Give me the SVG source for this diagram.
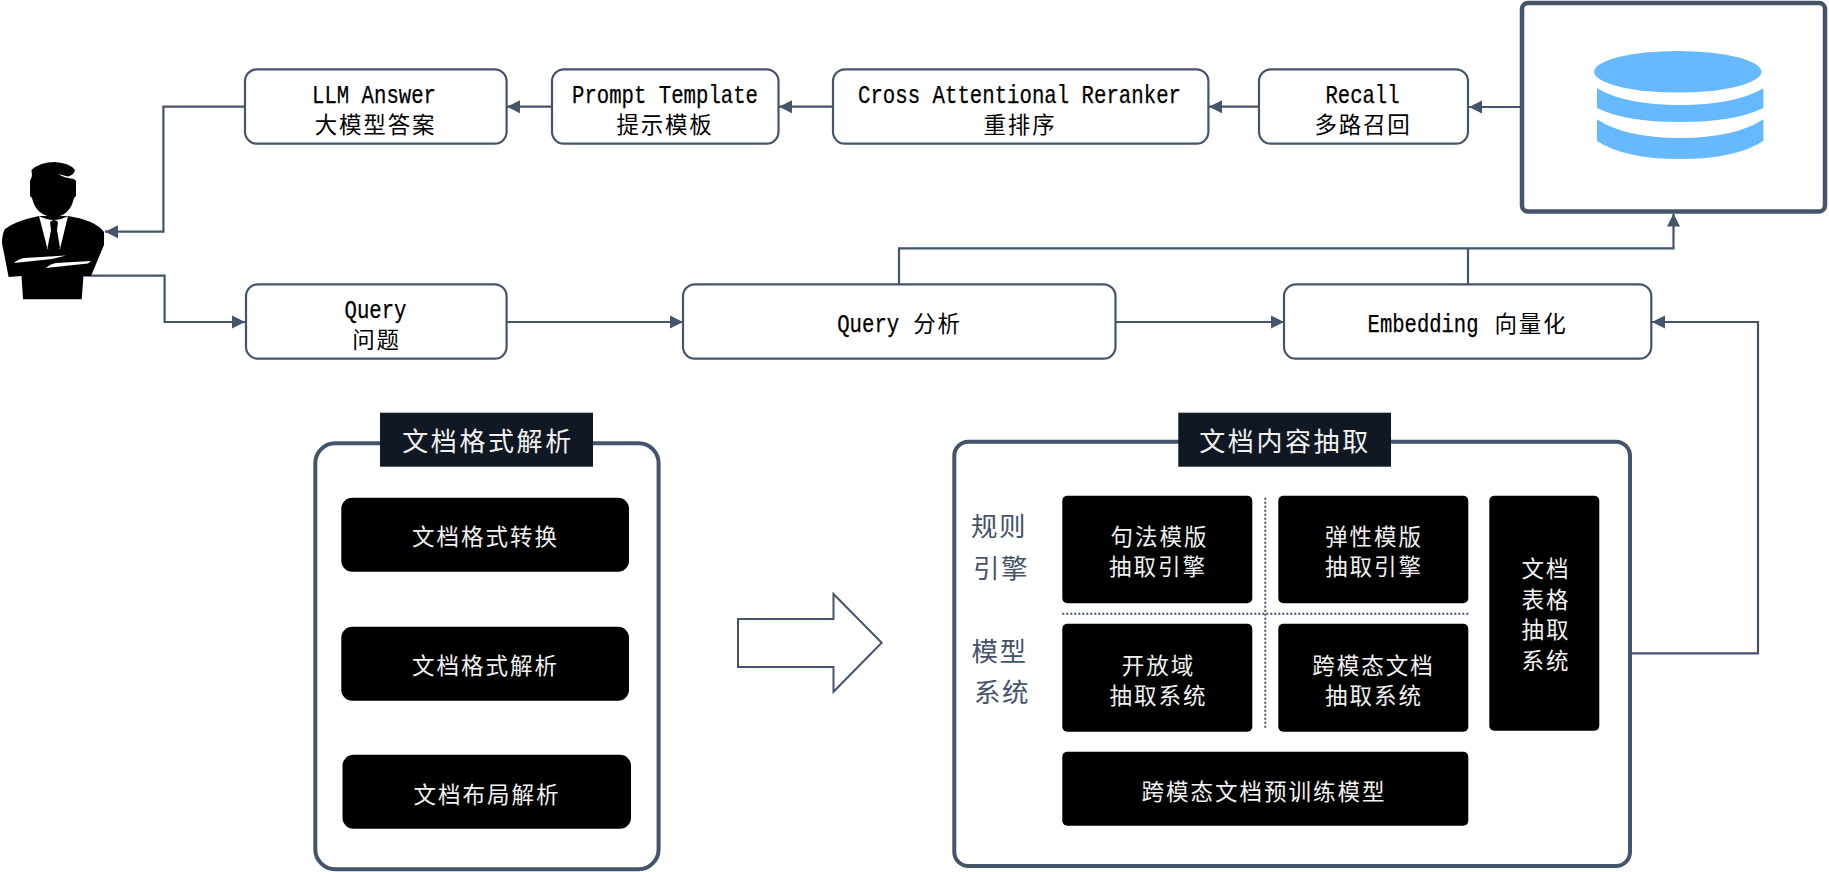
<svg xmlns="http://www.w3.org/2000/svg" width="1829" height="872" viewBox="0 0 1829 872">
<style>
text{text-anchor:middle}
.la{font-family:"Liberation Mono","Noto Sans CJK SC",monospace;font-size:25px;fill:#000;stroke:#000;stroke-width:.25}
.cn{font-family:"Noto Sans CJK SC",sans-serif;font-size:22.5px;letter-spacing:1.8px;fill:#000;stroke:none}
.wh{font-family:"Noto Sans CJK SC",sans-serif;font-size:22.5px;letter-spacing:2px;fill:#f2f2f2}
.ti{font-family:"Noto Sans CJK SC",sans-serif;font-size:26px;letter-spacing:2.6px;fill:#f2f2f2}
.sd{font-family:"Noto Sans CJK SC",sans-serif;font-size:26.5px;letter-spacing:1.5px;fill:#44546a}
.nb{fill:#fff;stroke:#44546a;stroke-width:2.2}
.fr{fill:#fff;stroke:#44546a;stroke-width:4}
.bk{fill:#000}
.hd{fill:#101824}
.cv{fill:none;stroke:#44546a;stroke-width:2.2}
.dt{fill:none;stroke:#44546a;stroke-width:2;stroke-dasharray:2 2}
.db{fill:#66b8ff}
</style>
<defs>
<marker id="ah" markerUnits="userSpaceOnUse" markerWidth="14" markerHeight="15" refX="13" refY="7" orient="auto"><path d="M0,0.5 L13,7 L0,13.5 Z" fill="#44546a"/></marker>
</defs>
<g id="connectors">
<path class="cv" d="M245,106.7 H163.4 V231.7 H105" marker-end="url(#ah)"/>
<path class="cv" d="M84,275.7 H164.6 V322 H245" marker-end="url(#ah)"/>
<path class="cv" d="M552,106.7 H507" marker-end="url(#ah)"/>
<path class="cv" d="M833,106.7 H779" marker-end="url(#ah)"/>
<path class="cv" d="M1259,106.7 H1209" marker-end="url(#ah)"/>
<path class="cv" d="M1522,107 H1469" marker-end="url(#ah)"/>
<path class="cv" d="M507,322 H683" marker-end="url(#ah)"/>
<path class="cv" d="M1115.5,322 H1284" marker-end="url(#ah)"/>
<path class="cv" d="M899,284.3 V248.3 H1673.5 V213.5" marker-end="url(#ah)"/>
<path class="cv" d="M1468,284.3 V248.3"/>
<path class="cv" d="M1630,653.3 H1758 V322 H1652" marker-end="url(#ah)"/>
</g>
<g id="person">
<path class="bk" d="M31.5,170 Q40,162 55,162 Q70,163 75,170 Q74,175 68,176.5 L58,174 Q64,178 74,179 L76,181 L76,196 L74,198 Q70,216 54,217 Q36,216 32,198 L30,196 L30,181 L32,176 Z"/>
<path class="bk" d="M39,216 Q15,221 5,229 Q2,234 2,243 L8.6,277 L21.5,276 L23,299.3 L81.7,299.3 L83.5,276 L91,276 L104,245 L104,232 Q95,220 68,216 Z"/>
<path fill="#fff" d="M39,216 L47.5,249 L60,249 L68,216 Q54,224 39,216 Z"/>
<path class="bk" d="M50,222 Q54,218 58,222 L57,230 L60,248 L54,254 L47.5,248 L51,230 Z"/>
<path fill="#fff" d="M14,263 Q18,259 24,258 L66,255.5 L52,259 Z"/>
<path fill="#fff" d="M46,268 Q50,264 56,263 L91,261 L88,263.5 Z"/>
</g>
<g id="llm"><rect class="nb" x="245" y="69.3" width="261.6" height="74.4" rx="12"/>
<text class="la" x="374" y="102.5" textLength="124" lengthAdjust="spacingAndGlyphs">LLM Answer</text><text class="cn" x="375.5" y="132.5">大模型答案</text></g>
<g id="prompt"><rect class="nb" x="552" y="69.3" width="226.5" height="74.4" rx="12"/>
<text class="la" x="665" y="102.5" textLength="186" lengthAdjust="spacingAndGlyphs">Prompt Template</text><text class="cn" x="665" y="132.5">提示模板</text></g>
<g id="reranker"><rect class="nb" x="833" y="69.3" width="375.4" height="74.4" rx="12"/>
<text class="la" x="1019.5" y="102.5" textLength="323" lengthAdjust="spacingAndGlyphs">Cross Attentional Reranker</text><text class="cn" x="1020" y="132.5">重排序</text></g>
<g id="recall"><rect class="nb" x="1259" y="69.3" width="209" height="74.4" rx="12"/>
<text class="la" x="1362.5" y="102.5" textLength="74" lengthAdjust="spacingAndGlyphs">Recall</text><text class="cn" x="1363" y="132.5">多路召回</text></g>
<g id="database"><rect x="1522" y="3" width="303" height="208.5" rx="6" fill="#fff" stroke="#44546a" stroke-width="4.5"/>
<ellipse class="db" cx="1677.8" cy="71.7" rx="83.6" ry="20.8"/>
<path class="db" d="M1597,88.3 Q1625,105 1680,105 Q1735,105 1763.4,88.3 V108 Q1735,122 1680,122 Q1625,122 1597,108 Z"/>
<path class="db" d="M1597,119.3 Q1625,138 1680,138 Q1735,138 1763.4,119.3 V141 Q1735,159 1680,159 Q1625,159 1597,141 Z"/></g>
<g id="query"><rect class="nb" x="246" y="284.3" width="260.6" height="74.4" rx="12"/>
<text class="la" x="375.5" y="317.5" textLength="62" lengthAdjust="spacingAndGlyphs">Query</text><text class="cn" x="376.5" y="347.5">问题</text></g>
<g id="analysis"><rect class="nb" x="683" y="284.3" width="432.5" height="74.4" rx="12"/>
<text class="la" x="899.5" y="332"><tspan textLength="62" lengthAdjust="spacingAndGlyphs">Query</tspan><tspan class="cn" dx="14">分析</tspan></text></g>
<g id="embedding"><rect class="nb" x="1284" y="284.3" width="367.3" height="74.4" rx="12"/>
<text class="la" x="1467.5" y="332"><tspan textLength="111" lengthAdjust="spacingAndGlyphs">Embedding</tspan><tspan class="cn" dx="16">向量化</tspan></text></g>
<g id="format-frame"><rect class="fr" x="315.3" y="443.3" width="343.3" height="426" rx="20"/>
<rect class="hd" x="380" y="412.7" width="213" height="54"/>
<text class="ti" x="488" y="450.5">文档格式解析</text></g>
<g id="fmt-convert"><rect class="bk" x="341.3" y="497.7" width="287.7" height="74" rx="11"/><text class="wh" x="485.5" y="544.5">文档格式转换</text></g>
<g id="fmt-parse"><rect class="bk" x="341.3" y="626.7" width="287.7" height="74" rx="11"/><text class="wh" x="485.5" y="674">文档格式解析</text></g>
<g id="fmt-layout"><rect class="bk" x="342.5" y="754.7" width="288.5" height="74" rx="11"/><text class="wh" x="487" y="802.5">文档布局解析</text></g>
<g id="big-arrow"><path fill="#fff" stroke="#44546a" stroke-width="2" d="M738,619 H833.5 V594 L881.7,642.7 L833.5,691.7 V667 H738 Z"/></g>
<g id="content-frame"><rect class="fr" x="954.3" y="441.7" width="675.7" height="424.3" rx="14"/>
<rect class="hd" x="1178.3" y="412.7" width="212.7" height="54"/>
<text class="ti" x="1285" y="450.5">文档内容抽取</text></g>
<g id="side-labels"><text class="sd" x="999" y="536">规则</text><text class="sd" x="1001" y="577.5">引擎</text><text class="sd" x="999.5" y="660.5">模型</text><text class="sd" x="1002" y="701.5">系统</text></g>
<g id="dividers"><path class="dt" d="M1265.3,497.7 V729"/><path class="dt" d="M1062.3,613.7 H1468.3"/></g>
<g id="syntax"><rect class="bk" x="1062.3" y="495.7" width="190" height="107.6" rx="5"/><text class="wh" x="1159.5" y="545">句法模版</text><text class="wh" x="1158" y="575">抽取引擎</text></g>
<g id="elastic"><rect class="bk" x="1278.3" y="495.7" width="190" height="107.6" rx="5"/><text class="wh" x="1374" y="545">弹性模版</text><text class="wh" x="1374" y="575">抽取引擎</text></g>
<g id="open"><rect class="bk" x="1062.3" y="623.7" width="190" height="108" rx="5"/><text class="wh" x="1158.5" y="673.5">开放域</text><text class="wh" x="1158.5" y="703.5">抽取系统</text></g>
<g id="cross-modal"><rect class="bk" x="1278.3" y="623.7" width="190" height="108" rx="5"/><text class="wh" x="1373.5" y="673.5">跨模态文档</text><text class="wh" x="1374" y="703.5">抽取系统</text></g>
<g id="pretrain"><rect class="bk" x="1062.3" y="751.7" width="406" height="74" rx="5"/><text class="wh" x="1264" y="799.5">跨模态文档预训练模型</text></g>
<g id="table"><rect class="bk" x="1489.3" y="495.7" width="110" height="235" rx="5"/><text class="wh" x="1546" y="576.5">文档</text><text class="wh" x="1546" y="607.5">表格</text><text class="wh" x="1546" y="637.5">抽取</text><text class="wh" x="1546" y="668.5">系统</text></g>
</svg>
